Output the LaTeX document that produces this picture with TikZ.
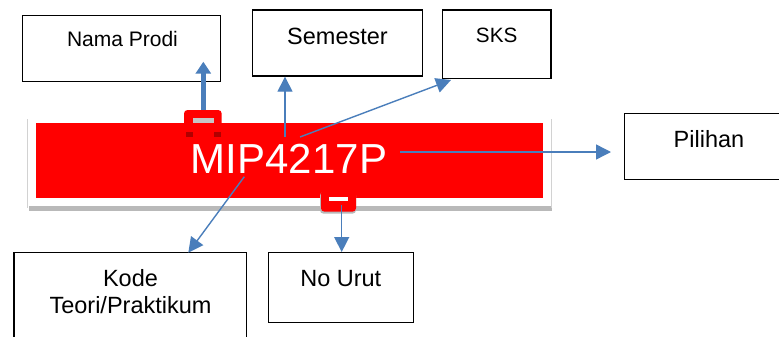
\documentclass[tikz,border=0pt]{standalone}
\usepackage{fontspec}
\setmainfont{Liberation Sans}
\usetikzlibrary{arrows.meta}
\definecolor{arrblue}{HTML}{4A7EBB}
\definecolor{darkred}{HTML}{B00000}
\tikzset{
  box/.style={draw=black, line width=1.4pt, fill=white, inner sep=0pt, rectangle},
  lbl/.style={anchor=base, inner sep=0pt, font=\fontsize{23.5}{28}\selectfont},
  conn/.style={draw=arrblue, line width=1.4pt, -{Triangle[width=15pt,length=15pt]}},
  thickconn/.style={draw=arrblue, line width=4.5pt, -{Triangle[width=15pt,length=12pt]}},
}
\begin{document}
\begin{tikzpicture}[x=1pt,y=-1pt]
\useasboundingbox (0,0) rectangle (779,337);
\clip (0,0) rectangle (779,337);
% boxes
\node[box, minimum width=198pt, minimum height=66pt] (nama) at (121.7,48.7) {};
\node[lbl, font=\fontsize{21}{25}\selectfont] at (122.5,46.7) {Nama Prodi};
\node[box, minimum width=170pt, minimum height=66pt] (sem) at (337.2,43) {};
\node[lbl] at (337.5,44.3) {Semester};
\node[box, minimum width=108.7pt, minimum height=68.7pt] (sks) at (496.7,44.3) {};
\node[lbl, font=\fontsize{20.7}{25}\selectfont] at (496.7,42.3) {SKS};
\node[box, minimum width=190pt, minimum height=66pt] (pil) at (719.3,146.3) {};
\node[lbl] at (709,147.3) {Pilihan};
\node[box, minimum width=232.7pt, minimum height=100pt] (kode) at (130.3,302.7) {};
\node[lbl] at (130.5,286) {Kode};
\node[lbl] at (130.5,313.3) {Teori/Praktikum};
\node[box, minimum width=145pt, minimum height=70pt] (urut) at (340.8,287.7) {};
\node[lbl] at (340.8,286) {No Urut};
% panel with shadow
\fill[gray!55] (28.5,205.5) rectangle (551.5,210.5);
\fill[white] (27.3,119) rectangle (551,205.5);
\draw[gray!35, line width=0.8pt] (27.3,119) -- (27.3,208);
\draw[gray!35, line width=0.8pt] (551,119) -- (551,208);
\fill[red] (35.7,123.3) rectangle (543,197.7);
% top tab
\fill[red, rounded corners=3.5pt] (184,110) rectangle (221.7,137);
\fill[gray!45] (192.7,118) rectangle (213.7,123.3);
\fill[darkred] (185.7,132) rectangle (192.7,137);
\fill[darkred] (213.7,132) rectangle (221,137);
% bottom tab
\fill[gray!55, rounded corners=3.5pt] (320,192) rectangle (356,213.7);
\fill[red, rounded corners=3.5pt] (321,190) rectangle (356,211.7);
\fill[white] (329,197.3) rectangle (348.3,200.7);
% main code
\node[anchor=base, inner sep=0pt, text=white, font=\fontsize{42}{48}\selectfont] (code) at (289,173.3) {MIP4217P};
% connector coordinates
\coordinate (namaS) at (203.3,110);
\coordinate (namaE) at (203.3,61.7);
\coordinate (semS) at (285,137);
\coordinate (sksS) at (300,137);
\coordinate (sksE) at (451,80);
\coordinate (pilS) at (400,152);
\coordinate (pilE) at (611,152);
\coordinate (kodeS) at (244.3,176.7);
\coordinate (kodeE) at (188.3,252.7);
\coordinate (urutS) at (341.7,205);
% connectors
\draw[thickconn] (namaS) -- (namaE);
\draw[conn] (semS) -- (semS |- sem.south);
\draw[conn] (sksS) -- (sksE);
\draw[conn] (pilS) -- (pilE);
\draw[conn] (kodeS) -- (kodeE);
\draw[conn] (urutS) -- (urutS |- urut.north);
\end{tikzpicture}
\end{document}
